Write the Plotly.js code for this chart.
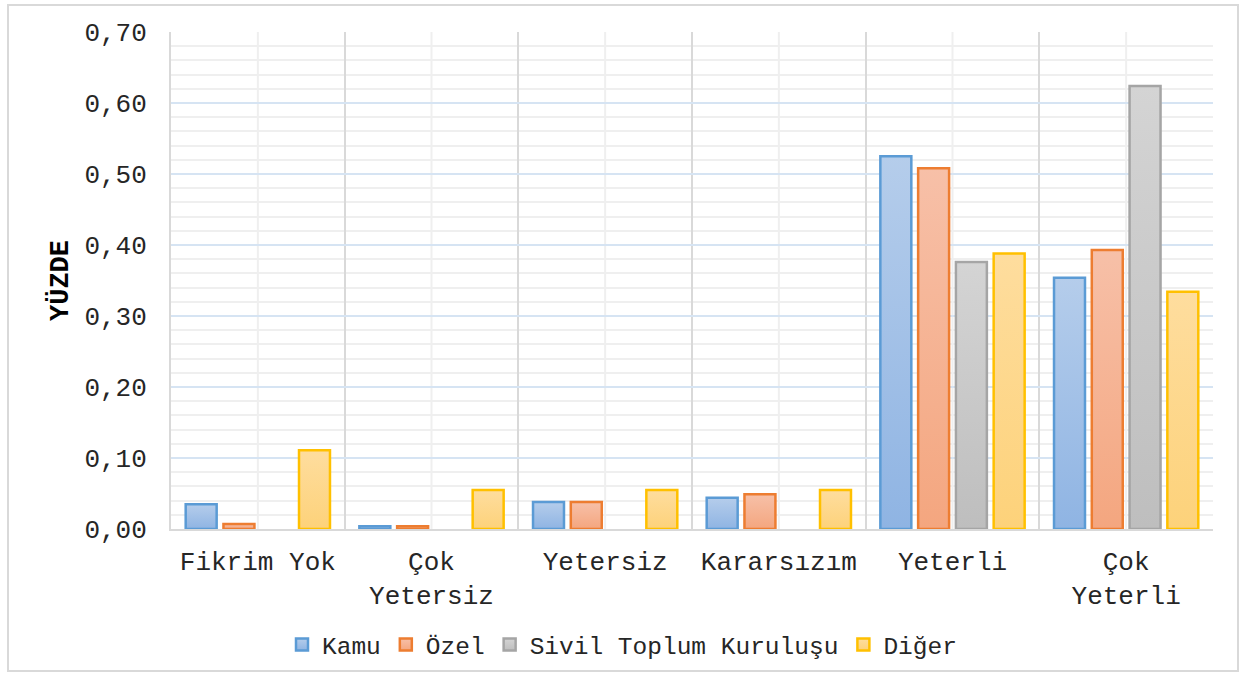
<!DOCTYPE html>
<html>
<head>
<meta charset="utf-8">
<script src="https://cdn.plot.ly/plotly-3.0.1.min.js"></script>
<style>
  html, body { margin: 0; padding: 0; background: #ffffff; }
  #chart { width: 1244px; height: 675px; position: absolute; left: 0; top: 0; }
  #frame { position: absolute; left: 7px; top: 4px; width: 1228px; height: 664px;
           border: 2px solid #d9d9d9; pointer-events: none; }
</style>
</head>
<body>
<div id="chart"></div>
<div id="frame"></div>
<script>
const categories = ["Fikrim Yok", "Çok<br>Yetersiz", "Yetersiz", "Kararsızım", "Yeterli", "Çok<br>Yeterli"];
const kamu  = [0.035, 0.004, 0.038, 0.044, 0.525, 0.354];
const ozel  = [0.007, 0.004, 0.038, 0.049, 0.508, 0.393];
const stk   = [null, null, null, null, 0.376, 0.624];
const diger = [0.111, 0.055, 0.055, 0.055, 0.388, 0.334];
const seriesNames = ["Kamu", "Özel", "Sivil Toplum Kuruluşu", "Diğer"];
const yTickVals = [0, 0.1, 0.2, 0.3, 0.4, 0.5, 0.6, 0.7];

const styles = [
  {fill: "#a3c1e8", line: "#5b9bd5", top: "#b5cdeb", bottom: "#8fb4e3"},
  {fill: "#f5b397", line: "#ed7d31", top: "#f7c0a8", bottom: "#f4a67f"},
  {fill: "#c8c8c8", line: "#a5a5a5", top: "#d4d4d4", bottom: "#bebebe"},
  {fill: "#fed88e", line: "#ffc000", top: "#fedd9e", bottom: "#fdd27a"}
];
const allValues = [kamu, ozel, stk, diger];

const traces = allValues.map((vals, i) => ({
  type: "bar",
  name: seriesNames[i],
  x: categories,
  y: vals,
  marker: {color: styles[i].fill, line: {color: styles[i].line, width: 2.5}},
  hoverinfo: "x+y+name"
}));

const centerLines = categories.map(c => ({
  type: "line", xref: "x", yref: "paper", x0: c, x1: c, y0: 0, y1: 1,
  line: {color: "#efefef", width: 2}, layer: "below"
}));

const font = "'Liberation Mono', 'Courier New', monospace";

const layout = {
  width: 1244, height: 675,
  margin: {l: 171, r: 31, t: 32, b: 146},
  paper_bgcolor: "#ffffff", plot_bgcolor: "#ffffff",
  separators: ",.",
  barmode: "group",
  bargap: 0.13,
  bargroupgap: 0.18,
  font: {family: font, color: "#262626", size: 26},
  showlegend: true,
  legend: {
    orientation: "h", xref: "container", yref: "container",
    x: 0.5, xanchor: "center", y: 0.045, yanchor: "middle",
    font: {family: font, size: 24.5, color: "#262626"},
    traceorder: "normal", itemwidth: 30
  },
  xaxis: {
    type: "category",
    tickson: "boundaries",
    showgrid: true, gridcolor: "#d9d9d9", gridwidth: 2,
    showline: true, linecolor: "#d9d9d9", linewidth: 2,
    ticks: "", ticklabelstandoff: 8,
    tickfont: {family: font, size: 26, color: "#262626"},
    zeroline: false
  },
  yaxis: {
    range: [0, 0.7],
    tickvals: yTickVals,
    tickformat: ".2f",
    showgrid: true, gridcolor: "#d6e4f3", gridwidth: 2,
    minor: {dtick: 0.02, showgrid: true, gridcolor: "#efefef", gridwidth: 2},
    showline: true, linecolor: "#d9d9d9", linewidth: 2,
    zeroline: false,
    ticks: "", ticklabelstandoff: 17,
    tickfont: {family: font, size: 26, color: "#262626"},
    title: {text: "<b>YÜZDE</b>", font: {family: font, size: 27, color: "#000000"}, standoff: 8}
  },
  shapes: centerLines
};

Plotly.newPlot("chart", traces, layout, {displayModeBar: false, staticPlot: true}).then(gd => {
  const svg = gd.querySelector("svg.main-svg");
  const ns = "http://www.w3.org/2000/svg";
  let defs = svg.querySelector("defs");
  if (!defs) { defs = document.createElementNS(ns, "defs"); svg.insertBefore(defs, svg.firstChild); }
  styles.forEach((s, i) => {
    const g = document.createElementNS(ns, "linearGradient");
    g.setAttribute("id", "barGrad" + i);
    g.setAttribute("x1", "0"); g.setAttribute("y1", "0");
    g.setAttribute("x2", "0"); g.setAttribute("y2", "1");
    const s1 = document.createElementNS(ns, "stop");
    s1.setAttribute("offset", "0"); s1.setAttribute("stop-color", s.top);
    const s2 = document.createElementNS(ns, "stop");
    s2.setAttribute("offset", "1"); s2.setAttribute("stop-color", s.bottom);
    g.appendChild(s1); g.appendChild(s2); defs.appendChild(g);
  });
  gd.querySelectorAll(".barlayer .trace.bars").forEach((t, i) => {
    t.querySelectorAll("path").forEach(p => { p.style.fill = "url(#barGrad" + i + ")"; });
  });
  gd.querySelectorAll(".legend .traces").forEach((t, i) => {
    t.querySelectorAll(".legendpoints path").forEach(p => { p.style.fill = "url(#barGrad" + i + ")"; });
  });
});
</script>
</body>
</html>
